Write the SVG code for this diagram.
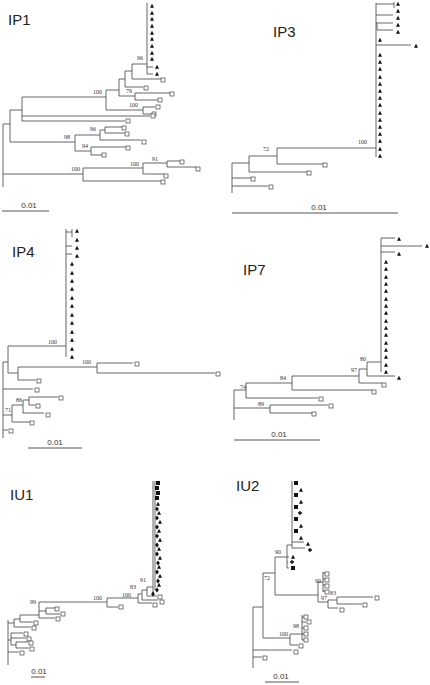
<svg xmlns="http://www.w3.org/2000/svg" xmlns:xlink="http://www.w3.org/1999/xlink" width="430" height="685" viewBox="0 0 430 685">
<style>
.br{fill:none;stroke:#555;stroke-width:0.9}
.sb{fill:none;stroke:#555;stroke-width:1}
.ttl{font-family:"Liberation Sans",Arial,sans-serif;font-size:15px;fill:#222}
.bs{font-family:"Liberation Serif","Times New Roman",serif;font-size:6px;fill:#333;text-anchor:end}
.sc{font-family:"Liberation Sans",Arial,sans-serif;font-size:8px;fill:#333;text-anchor:middle}
</style>
<defs>
<path id="tri" d="M0,-2.2L2,1.7H-2Z" fill="#111"/>
<rect id="sq" x="-2" y="-2" width="4" height="4" fill="#fff" stroke="#444" stroke-width="0.7"/>
<rect id="fsq" x="-2" y="-2" width="4" height="4" fill="#111"/>
<path id="pl" d="M-2,0H2M0,-2V2" stroke="#111" stroke-width="1.3"/>
<path id="dia" d="M0,-2.4L1.9,0L0,2.4L-1.9,0Z" fill="#111"/>
</defs>
<rect width="430" height="685" fill="#fff"/>

<g id="connectors">
<!-- IP1 -->
<path class="br" d="M3,124V187 M3,124H10 M10,110V142 M10,110H22 M22,97V121 M22,116H150 M22,121H125
M22,97H106 M106,90V110 M106,90H119 M119,79V96 M119,79H125 M125,71V87 M125,87H143
M125,71H132 M132,64V79 M132,79H161 M132,64H147 M147,3V74 M147,67H153 M147,74H153
M119,96H135 M135,93V100 M135,93H170 M135,100H158
M106,110H143 M143,107V114 M143,107H155 M143,114H151
M10,142H75 M75,135V151 M75,135H100 M100,130V140 M100,140H141 M100,130H105 M105,127V133 M105,127H122 M105,133H125
M75,151H91 M91,147V155 M91,147H126 M91,155H102
M3,174H83 M83,168V181 M83,181H161 M83,168H143 M143,163V174 M143,174H164 M143,163H167 M167,161V167 M167,161H180 M167,167H196"/>
<path class="sb" d="M2,211H49"/>
<!-- IP3 -->
<path class="br" d="M376,3V157 M376,4H394 M394,2V8 M376,15H393 M376,23H393 M377,23V30 M377,30H393 M376,45H411
M277,148H376 M277,148V164 M277,164H323 M249,156H277 M249,156V172 M249,172H307 M232,163H249 M232,163V193 M232,178H251 M232,186H268"/>
<path class="sb" d="M232,213H398"/>
<!-- IP4 -->
<path class="br" d="M66,229V357 M66,232H72 M72,229V237 M66,246H72 M66,254H72
M8,346H66 M8,346V373 M3,362H8 M3,362V438 M8,373H18 M18,367V380 M18,380H36 M18,367H97 M97,363V373 M97,363H133 M97,373H215
M3,389H33 M3,415H12 M12,405V422 M12,422H30 M12,405H23 M23,400V413 M23,413H44 M23,400H29 M29,397V405 M29,397H58 M29,405H35 M3,430H8"/>
<path class="sb" d="M28,448H82"/>
<!-- IP7 -->
<path class="br" d="M381,238V372 M381,238H395 M381,246H422 M381,252H395
M367,362H381 M367,362V376 M367,376H395 M359,369H367 M359,369V383 M359,383H382
M292,376H359 M292,376V390 M292,390H372 M246,383H292 M246,383V398 M246,398H318 M234,390H246 M234,390V420
M234,408H270 M270,405V413 M270,405H328 M270,413H312"/>
<path class="sb" d="M234,440H320"/>
<!-- IU1 -->
<path class="br" d="M153,481V593 M155,481V590 M147,587H153 M147,587V596 M147,596H157 M142,590H147 M142,590V600 M142,600H158
M138,594H142 M138,594V603 M138,603H152 M107,598H138 M107,598V607 M107,607H118 M39,602H107 M39,602V618
M39,611H46 M46,608V614 M46,608H55 M46,614H60 M39,618H55 M20,615H39 M20,615V622 M20,622H33 M14,619H20 M14,619V627 M14,627H31 M8,623H14
M8,620V665 M8,640H11 M11,633V645 M11,633H23 M11,638H26 M11,645H16 M16,642V648 M16,642H28 M16,648H29 M8,652H19"/>
<path class="sb" d="M31,677H45"/>
<!-- IU2 -->
<path class="br" d="M292,481V548 M292,542H304 M292,548H305 M287,545H292 M287,545V568 M287,557H289 M287,562H288 M287,568H289
M275,557H287 M275,557V595 M263,573H275 M263,573V638 M275,595H318 M318,582V602 M318,582H323 M323,572V592
M323,573H325 M323,579H325 M323,585H325 M323,591H325 M318,602H328 M328,600V608 M328,600H337 M337,597V604 M337,597H373 M337,604H362 M328,608H338
M263,638H290 M290,634V645 M290,634H302 M302,615V640 M302,617H304 M302,622H306 M302,628H304 M302,634H304 M302,640H304 M290,645H298
M253,607H263 M253,607V668 M253,650H292 M253,657H262"/>
<path class="sb" d="M265,682H299"/>
</g>

<g id="IP1">
<text class="ttl" x="8" y="25">IP1</text>
<use href="#tri" x="152" y="6"/><use href="#tri" x="152" y="13"/><use href="#tri" x="152" y="19"/><use href="#tri" x="152" y="26"/><use href="#tri" x="152" y="33"/><use href="#tri" x="152" y="39"/><use href="#tri" x="152" y="46"/><use href="#tri" x="152" y="53"/><use href="#tri" x="152" y="59"/>
<use href="#tri" x="157" y="67"/><use href="#tri" x="157" y="74"/>
<use href="#sq" x="163" y="80"/><use href="#sq" x="146" y="88"/><use href="#sq" x="172" y="94"/><use href="#sq" x="160" y="100"/><use href="#sq" x="158" y="107"/><use href="#sq" x="154" y="114"/><use href="#sq" x="153" y="116"/><use href="#sq" x="128" y="121"/>
<use href="#sq" x="124" y="128"/><use href="#sq" x="127" y="134"/><use href="#sq" x="144" y="142"/><use href="#sq" x="128" y="148"/><use href="#sq" x="104" y="155"/>
<use href="#sq" x="182" y="162"/><use href="#sq" x="198" y="169"/><use href="#sq" x="166" y="176"/><use href="#sq" x="163" y="182"/>
<text class="bs" x="143" y="60">96</text><text class="bs" x="102" y="94">100</text><text class="bs" x="132" y="93">79</text><text class="bs" x="138" y="107">100</text>
<text class="bs" x="70" y="139">98</text><text class="bs" x="96" y="131">96</text><text class="bs" x="88" y="148">94</text>
<text class="bs" x="80" y="171">100</text><text class="bs" x="139" y="166">100</text><text class="bs" x="158" y="161">91</text>
<text class="sc" x="29" y="208">0.01</text>
</g>

<g id="IP3">
<text class="ttl" x="273" y="37">IP3</text>
<use href="#tri" x="398" y="4"/><use href="#tri" x="398" y="11"/><use href="#tri" x="398" y="18"/><use href="#tri" x="398" y="25"/><use href="#tri" x="398" y="32"/>
<use href="#tri" x="380" y="40"/><use href="#tri" x="416" y="46"/>
<use href="#tri" x="380" y="55"/><use href="#tri" x="380" y="62"/><use href="#tri" x="380" y="69"/><use href="#tri" x="380" y="77"/><use href="#tri" x="380" y="84"/><use href="#tri" x="380" y="91"/><use href="#tri" x="380" y="98"/><use href="#tri" x="380" y="105"/><use href="#tri" x="380" y="113"/><use href="#tri" x="380" y="120"/><use href="#tri" x="380" y="127"/><use href="#tri" x="380" y="134"/><use href="#tri" x="380" y="141"/><use href="#tri" x="380" y="149"/><use href="#tri" x="380" y="156"/>
<use href="#sq" x="325" y="165"/><use href="#sq" x="309" y="173"/><use href="#sq" x="253" y="179"/><use href="#sq" x="271" y="187"/>
<text class="bs" x="367" y="144">100</text><text class="bs" x="269" y="151">72</text>
<text class="sc" x="319" y="210">0.01</text>
</g>

<g id="IP4">
<text class="ttl" x="12" y="257">IP4</text>
<use href="#tri" x="77" y="231"/><use href="#tri" x="77" y="240"/><use href="#tri" x="77" y="248"/><use href="#tri" x="77" y="256"/>
<use href="#tri" x="72" y="264"/><use href="#tri" x="72" y="273"/><use href="#tri" x="72" y="281"/><use href="#tri" x="72" y="289"/><use href="#tri" x="72" y="298"/><use href="#tri" x="72" y="306"/><use href="#tri" x="72" y="315"/><use href="#tri" x="72" y="323"/><use href="#tri" x="72" y="332"/><use href="#tri" x="72" y="340"/><use href="#tri" x="72" y="349"/><use href="#tri" x="72" y="357"/>
<use href="#sq" x="137" y="364"/><use href="#sq" x="218" y="374"/><use href="#sq" x="39" y="381"/><use href="#sq" x="37" y="390"/>
<use href="#sq" x="61" y="398"/><use href="#sq" x="38" y="406"/><use href="#sq" x="48" y="415"/><use href="#sq" x="32" y="423"/><use href="#sq" x="11" y="431"/>
<text class="bs" x="57" y="344">100</text><text class="bs" x="91" y="364">100</text><text class="bs" x="22" y="402">86</text><text class="bs" x="11" y="412">71</text>
<text class="sc" x="55" y="445">0.01</text>
</g>

<g id="IP7">
<text class="ttl" x="243" y="275">IP7</text>
<use href="#tri" x="399" y="239"/><use href="#tri" x="427" y="246"/><use href="#tri" x="399" y="254"/>
<use href="#tri" x="386" y="262"/><use href="#tri" x="386" y="269"/><use href="#tri" x="386" y="277"/><use href="#tri" x="386" y="284"/><use href="#tri" x="386" y="291"/><use href="#tri" x="386" y="299"/><use href="#tri" x="386" y="306"/><use href="#tri" x="386" y="313"/><use href="#tri" x="386" y="321"/><use href="#tri" x="386" y="328"/><use href="#tri" x="386" y="335"/><use href="#tri" x="386" y="343"/><use href="#tri" x="386" y="350"/><use href="#tri" x="386" y="357"/><use href="#tri" x="386" y="365"/><use href="#tri" x="386" y="372"/>
<use href="#tri" x="399" y="378"/>
<use href="#sq" x="384" y="385"/><use href="#sq" x="374" y="392"/><use href="#sq" x="321" y="399"/><use href="#sq" x="331" y="406"/><use href="#sq" x="314" y="414"/>
<text class="bs" x="366" y="361">80</text><text class="bs" x="357" y="372">97</text><text class="bs" x="286" y="380">84</text><text class="bs" x="246" y="389">74</text><text class="bs" x="264" y="406">89</text>
<text class="sc" x="279" y="437">0.01</text>
</g>

<g id="IU1">
<text class="ttl" x="10" y="500">IU1</text>
<use href="#fsq" x="158" y="483"/><use href="#fsq" x="157" y="488"/><use href="#fsq" x="158" y="493"/><use href="#fsq" x="157" y="498"/>
<use href="#tri" x="158" y="504"/><use href="#dia" x="157" y="509"/><use href="#tri" x="159" y="513"/><use href="#dia" x="157" y="518"/><use href="#tri" x="160" y="522"/><use href="#dia" x="157" y="527"/><use href="#tri" x="159" y="531"/><use href="#dia" x="157" y="536"/><use href="#tri" x="160" y="540"/><use href="#dia" x="157" y="545"/><use href="#tri" x="159" y="549"/><use href="#dia" x="157" y="554"/><use href="#tri" x="160" y="558"/><use href="#dia" x="158" y="563"/><use href="#tri" x="159" y="567"/><use href="#dia" x="157" y="572"/><use href="#tri" x="160" y="576"/><use href="#dia" x="158" y="581"/><use href="#tri" x="159" y="585"/><use href="#dia" x="157" y="590"/>
<use href="#dia" x="153" y="594"/><use href="#sq" x="160" y="597"/><use href="#sq" x="162" y="602"/><use href="#sq" x="155" y="605"/><use href="#sq" x="121" y="607"/>
<use href="#sq" x="57" y="609"/><use href="#sq" x="63" y="614"/><use href="#sq" x="58" y="619"/><use href="#sq" x="36" y="623"/><use href="#sq" x="34" y="628"/><use href="#sq" x="26" y="634"/><use href="#sq" x="29" y="639"/><use href="#sq" x="31" y="643"/><use href="#sq" x="32" y="649"/><use href="#sq" x="22" y="653"/>
<text class="bs" x="146" y="582">91</text><text class="bs" x="136" y="589">83</text><text class="bs" x="131" y="597">100</text><text class="bs" x="102" y="600">100</text><text class="bs" x="36" y="604">99</text>
<text class="sc" x="39" y="674">0.01</text>
</g>

<g id="IU2">
<text class="ttl" x="236" y="491">IU2</text>
<use href="#fsq" x="296" y="483"/><use href="#tri" x="301" y="490"/><use href="#fsq" x="296" y="495"/><use href="#tri" x="301" y="502"/><use href="#fsq" x="296" y="507"/><use href="#pl" x="300" y="513"/><use href="#fsq" x="296" y="519"/><use href="#tri" x="301" y="526"/><use href="#fsq" x="296" y="531"/><use href="#tri" x="301" y="538"/>
<use href="#tri" x="308" y="544"/><use href="#pl" x="310" y="550"/>
<use href="#tri" x="293" y="557"/><use href="#pl" x="292" y="562"/><use href="#fsq" x="293" y="568"/>
<use href="#sq" x="327" y="574"/><use href="#sq" x="327" y="580"/><use href="#sq" x="327" y="586"/><use href="#sq" x="327" y="592"/>
<use href="#sq" x="377" y="598"/><use href="#sq" x="365" y="605"/><use href="#sq" x="342" y="610"/>
<use href="#sq" x="306" y="617"/><use href="#sq" x="309" y="622"/><use href="#sq" x="306" y="628"/><use href="#sq" x="306" y="634"/><use href="#sq" x="306" y="640"/><use href="#sq" x="301" y="646"/><use href="#sq" x="296" y="652"/><use href="#sq" x="265" y="658"/>
<text class="bs" x="281" y="554">90</text><text class="bs" x="270" y="580">72</text><text class="bs" x="321" y="583">90</text><text class="bs" x="336" y="595">83</text><text class="bs" x="327" y="600">97</text><text class="bs" x="299" y="628">98</text><text class="bs" x="288" y="636">100</text>
<text class="sc" x="281" y="679">0.01</text>
</g>
</svg>
